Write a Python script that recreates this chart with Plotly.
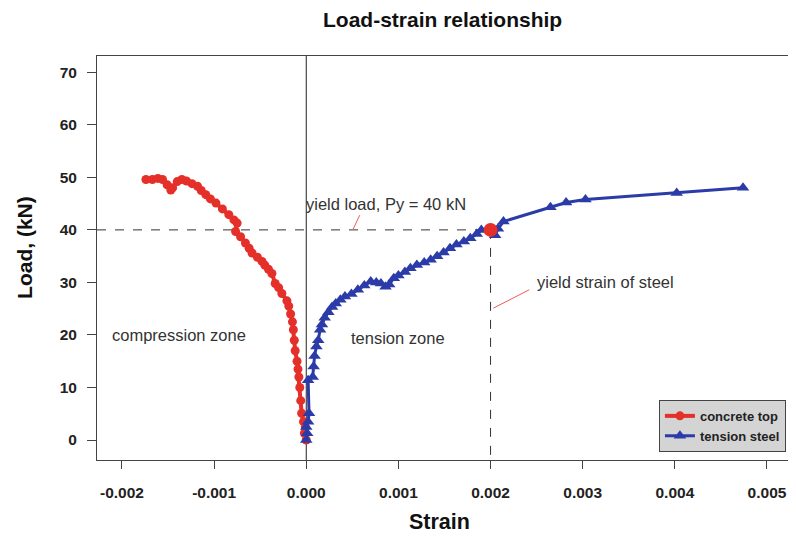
import plotly.graph_objects as go

# Concrete top (compression) strain and load
concrete_strain = [0.0, -0.00002, -0.00001, -0.00003, -0.00005, -0.00006, -0.00007, -0.00008,
                   -0.00009, -0.00010, -0.00012, -0.00013, -0.00014, -0.00015, -0.00017, -0.00019,
                   -0.00021, -0.000265, -0.00030, -0.000337, -0.000373, -0.00041, -0.00045, -0.00048,
                   -0.00053, -0.000588, -0.00062, -0.00066, -0.000713, -0.000767, -0.00075, -0.000785,
                   -0.00084, -0.00091, -0.00098, -0.00104, -0.00109, -0.00114, -0.00118, -0.00124,
                   -0.00130, -0.00135, -0.00140, -0.00145, -0.00147, -0.00151, -0.00156, -0.00161,
                   -0.00167, -0.00174]
concrete_load = [0.0, 1.3, 2.5, 3.5, 5.1, 7.5, 10.0, 12.0,
                 13.5, 15.0, 17.0, 19.0, 21.0, 22.5, 24.0, 25.5,
                 26.5, 27.9, 29.0, 29.8, 31.7, 32.5, 33.3, 34.0,
                 34.8, 35.6, 36.5, 37.5, 38.7, 39.7, 41.3, 41.9,
                 42.9, 44.0, 45.1, 45.9, 46.7, 47.5, 48.3, 48.8,
                 49.3, 49.6, 49.2, 48.0, 47.6, 48.6, 49.6, 49.8,
                 49.6, 49.6]

# Tension steel strain and load
steel_strain = [0.0, 0.00001, 0.0, 0.00002, 0.00003, 0.00002, 0.00007, 0.00008,
                0.00009, 0.00011, 0.00013, 0.00015, 0.00017, 0.00020, 0.00024, 0.00028,
                0.00032, 0.00037, 0.00042, 0.00049, 0.00056, 0.00063, 0.00070, 0.00076,
                0.00081, 0.00086, 0.00090, 0.00095, 0.00100, 0.00107, 0.00113, 0.00120,
                0.00128, 0.00135, 0.00142, 0.00149, 0.00156, 0.00163, 0.00171, 0.00178,
                0.00185, 0.00190, 0.00199, 0.00205, 0.00208, 0.00214, 0.00265, 0.00282,
                0.00303, 0.00402, 0.00474]
steel_load = [0.0, 1.3, 2.5, 3.5, 5.1, 11.4, 12.0, 14.0,
              16.0, 17.8, 19.0, 21.0, 22.0, 23.3, 24.3, 25.3,
              26.0, 26.7, 27.3, 27.8, 28.6, 29.4, 30.2, 30.0,
              29.8, 29.2, 29.6, 30.8, 31.3, 32.0, 32.7, 33.3,
              33.8, 34.3, 35.0, 35.7, 36.5, 37.2, 37.8, 38.4,
              39.2, 40.0, 40.2, 39.0, 40.2, 41.6, 44.3, 45.2,
              45.8, 47.0, 48.0]

yield_strain = 0.002
yield_load = 40

x_ticks = [-0.002, -0.001, 0.0, 0.001, 0.002, 0.003, 0.004, 0.005]
x_tick_labels = ["-0.002", "-0.001", "0.000", "0.001", "0.002", "0.003", "0.004", "0.005"]
y_ticks = [0, 10, 20, 30, 40, 50, 60, 70]

RED = "#E5302A"
BLUE = "#2B3BA8"
FONT = "Liberation Sans, Arial, sans-serif"
XR = [-0.002271, 0.005228]
YR = [-3.8, 73.1]

fig = go.Figure()

fig.add_trace(go.Scatter(
    x=concrete_strain, y=concrete_load, mode="lines+markers", name="<b>concrete top</b>",
    line=dict(color=RED, width=4), marker=dict(color=RED, size=9, symbol="circle")))
fig.add_trace(go.Scatter(
    x=steel_strain, y=steel_load, mode="lines+markers", name="<b>tension steel</b>",
    line=dict(color=BLUE, width=3), marker=dict(color=BLUE, size=11, symbol="triangle-up")))
fig.add_trace(go.Scatter(
    x=[yield_strain], y=[yield_load], mode="markers", showlegend=False,
    marker=dict(color=RED, size=14, symbol="circle")))

shapes = [
    dict(type="line", xref="x", yref="paper", x0=0, x1=0, y0=0, y1=1,
         line=dict(color="#222222", width=1), layer="below"),
    dict(type="line", xref="x", yref="y", x0=XR[0], x1=yield_strain, y0=yield_load, y1=yield_load,
         line=dict(color="#333333", width=1, dash="dash"), layer="below"),
    dict(type="line", xref="x", yref="y", x0=yield_strain, x1=yield_strain, y0=yield_load, y1=-3.0,
         line=dict(color="#333333", width=1, dash="dash"), layer="below"),
    dict(type="line", xref="x", yref="y", x0=0.000505, x1=0.00058, y0=40, y1=42.8,
         line=dict(color="#F05A5A", width=1)),
    dict(type="line", xref="x", yref="y", x0=0.00203, x1=0.00242, y0=25.1, y1=28.6,
         line=dict(color="#F05A5A", width=1)),
]

ann_font = dict(family=FONT, size=16.5, color="#333333")
annotations = [
    dict(x=0.00086, y=45.0, text="yield load, Py = 40 kN", showarrow=False, font=ann_font),
    dict(x=0.00325, y=30.0, text="yield strain of steel", showarrow=False, font=ann_font),
    dict(x=-0.00138, y=20.0, text="compression zone", showarrow=False, font=ann_font),
    dict(x=0.001, y=19.5, text="tension zone", showarrow=False, font=ann_font),
    dict(xref="paper", yref="paper", x=0.5, y=1, yshift=37, xanchor="center", yanchor="middle",
         text="<b>Load-strain relationship</b>", showarrow=False,
         font=dict(family=FONT, size=21, color="#111111")),
    dict(xref="paper", yref="paper", x=0.496, y=0, yshift=-62, xanchor="center", yanchor="middle",
         text="<b>Strain</b>", showarrow=False,
         font=dict(family=FONT, size=21.5, color="#111111")),
    dict(xref="paper", yref="paper", x=0, y=0.525, xshift=-72, xanchor="center", yanchor="middle",
         text="<b>Load, (kN)</b>", showarrow=False, textangle=-90,
         font=dict(family=FONT, size=21, color="#111111")),
]

# the page shows the figure 8 px in from the top-left corner; size it to fit the window
fig.update_layout(
    width=780, height=527,
    margin=dict(l=89, r=0, t=48, b=75, autoexpand=False),
    paper_bgcolor="white", plot_bgcolor="white",
    font=dict(family=FONT, color="#111111"),
    shapes=shapes, annotations=annotations,
    showlegend=True,
    legend=dict(x=0.997, y=0.02, xanchor="right", yanchor="bottom",
                bgcolor="#D4D4D4", bordercolor="#444444", borderwidth=1,
                font=dict(family=FONT, size=13, color="#222222"),
                itemwidth=30, tracegroupgap=0),
    xaxis=dict(range=XR, tickmode="array", tickvals=x_ticks, ticktext=["<b>%s</b>" % t for t in x_tick_labels],
               ticks="outside", ticklen=8, tickcolor="#444444", showgrid=False, zeroline=False,
               showline=True, linecolor="#444444", linewidth=1, mirror=True, automargin=False,
               tickfont=dict(family=FONT, size=15.5, color="#222222"), ticklabelstandoff=10),
    yaxis=dict(range=YR, tickmode="array", tickvals=y_ticks, ticktext=["<b>%d</b>" % v for v in y_ticks],
               ticks="outside", ticklen=9, tickcolor="#444444", showgrid=False, zeroline=False,
               showline=True, linecolor="#444444", linewidth=1, mirror=False, automargin=False,
               tickfont=dict(family=FONT, size=15.5, color="#222222"), ticklabelstandoff=7),
)

fig.write_html("out.html")
